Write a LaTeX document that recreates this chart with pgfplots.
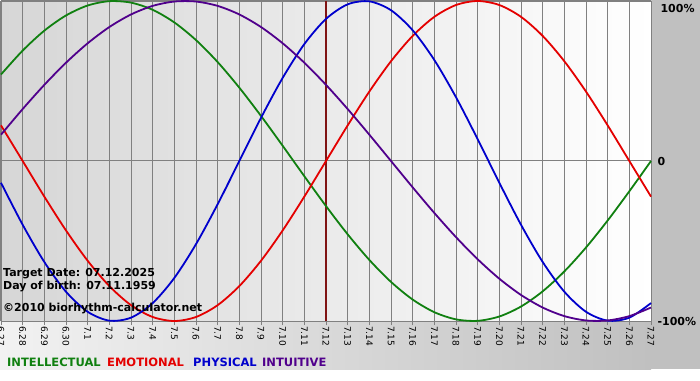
\documentclass[border=0pt]{standalone}
\usepackage{fontspec}
\setmainfont{DejaVu Sans}
\usepackage{pgfplots}
\usepackage{pgfplotstable}
\pgfplotsset{compat=1.18}
\definecolor{cint}{RGB}{16,128,16}
\definecolor{cemo}{RGB}{228,0,0}
\definecolor{cphy}{RGB}{0,0,204}
\definecolor{citu}{RGB}{80,0,140}
\definecolor{vline}{RGB}{128,20,20}
\definecolor{gridc}{RGB}{128,128,128}
\definecolor{plotL}{RGB}{214,214,214}
\definecolor{botL}{RGB}{242,242,242}
\definecolor{marg}{RGB}{192,192,192}

\pgfplotstableread{
i int emo phy itu
0 0.5406 0.2225 -0.1362 0.1646
1 0.6901 0 -0.3984 0.3247
2 0.8146 -0.2225 -0.6311 0.4759
3 0.9096 -0.4339 -0.8170 0.6142
4 0.9718 -0.6235 -0.9423 0.7357
5 0.9989 -0.7818 -0.9977 0.8372
6 0.9898 -0.9010 -0.9791 0.9158
7 0.9450 -0.9749 -0.8880 0.9694
8 0.8660 -1 -0.7308 0.9966
9 0.7557 -0.9749 -0.5196 0.9966
10 0.6182 -0.9010 -0.2698 0.9694
11 0.4582 -0.7818 0 0.9158
12 0.2817 -0.6235 0.2698 0.8372
13 0.0951 -0.4339 0.5196 0.7357
14 -0.0951 -0.2225 0.7308 0.6142
15 -0.2817 0 0.8880 0.4759
16 -0.4582 0.2225 0.9791 0.3247
17 -0.6182 0.4339 0.9977 0.1646
18 -0.7557 0.6235 0.9423 0
19 -0.8660 0.7818 0.8170 -0.1646
20 -0.9450 0.9010 0.6311 -0.3247
21 -0.9898 0.9749 0.3984 -0.4759
22 -0.9989 1 0.1362 -0.6142
23 -0.9718 0.9749 -0.1362 -0.7357
24 -0.9096 0.9010 -0.3984 -0.8372
25 -0.8146 0.7818 -0.6311 -0.9158
26 -0.6901 0.6235 -0.8170 -0.9694
27 -0.5406 0.4339 -0.9423 -0.9966
28 -0.3717 0.2225 -0.9977 -0.9966
29 -0.1893 0 -0.9791 -0.9694
30 0 -0.2225 -0.8880 -0.9158
}\bio

\begin{document}
\begin{tikzpicture}[x=1pt,y=1pt]
\useasboundingbox (0,0) rectangle (700,380);
\fill[white] (0,0) rectangle (700,380);
\fill[marg] (651,11) rectangle (700,380);
\shade[left color=botL, right color=marg] (0,11) rectangle (651,59);
\begin{axis}[
  at={(1pt,59pt)}, anchor=south west,
  scale only axis, width=650pt, height=320pt,
  xmin=0, xmax=30, ymin=-1, ymax=1,
  clip=false,
  axis background/.style={left color=plotL, right color=white},
  axis line style={draw=gridc, line width=0.8pt},
  xtick={0,...,30},
  xticklabels={6.27,6.28,6.29,6.30,7.1,7.2,7.3,7.4,7.5,7.6,7.7,7.8,7.9,7.10,7.11,7.12,7.13,7.14,7.15,7.16,7.17,7.18,7.19,7.20,7.21,7.22,7.23,7.24,7.25,7.26,7.27},
  xtick align=outside, major tick length=4pt,
  xtick pos=left,
  x tick style={draw=gridc, line width=0.8pt},
  xticklabel style={rotate=-90, anchor=west, font=\fontsize{9}{9}\selectfont, inner sep=1pt},
  xmajorgrids, ymajorgrids,
  grid style={draw=gridc, line width=1pt},
  ytick={-1,0}, yticklabels={-100\%,0},
  ytick pos=right, yticklabel pos=right,
  y tick style={draw=none},
  yticklabel style={font=\bfseries\fontsize{11}{11}\selectfont, anchor=west, xshift=3pt},
  extra y ticks={1}, extra y tick labels={100\%},
  extra y tick style={yticklabel style={yshift=-7pt, xshift=3pt}},
  extra x ticks={15}, extra x tick labels={},
  extra x tick style={grid=major, major tick length=0pt, grid style={draw=vline, line width=2pt}},
  /pgf/number format/assume math mode=true,
]
\addplot[cint, line width=1.8pt, smooth, no marks] table[x=i, y=int] {\bio};
\addplot[cemo, line width=1.8pt, smooth, no marks] table[x=i, y=emo] {\bio};
\addplot[cphy, line width=1.8pt, smooth, no marks] table[x=i, y=phy] {\bio};
\addplot[citu, line width=1.8pt, smooth, no marks] table[x=i, y=itu] {\bio};
\end{axis}
\begin{scope}[every node/.style={inner sep=0, anchor=base west, font=\bfseries\fontsize{11}{11}\selectfont}]
\node at (3,104) {Target Date: 07.12.2025};
\node at (3,91) {Day of birth: 07.11.1959};
\node at (3,69) {©2010 biorhythm-calculator.net};
\end{scope}
\begin{scope}[every node/.style={inner sep=0, anchor=base west, font=\bfseries\fontsize{11.5}{11.5}\selectfont}]
\node[text=cint] at (7,14) {INTELLECTUAL};
\node[text=cemo] at (107,14) {EMOTIONAL};
\node[text=cphy] at (193,14) {PHYSICAL};
\node[text=citu] at (262,14) {INTUITIVE};
\end{scope}
\end{tikzpicture}
\end{document}
